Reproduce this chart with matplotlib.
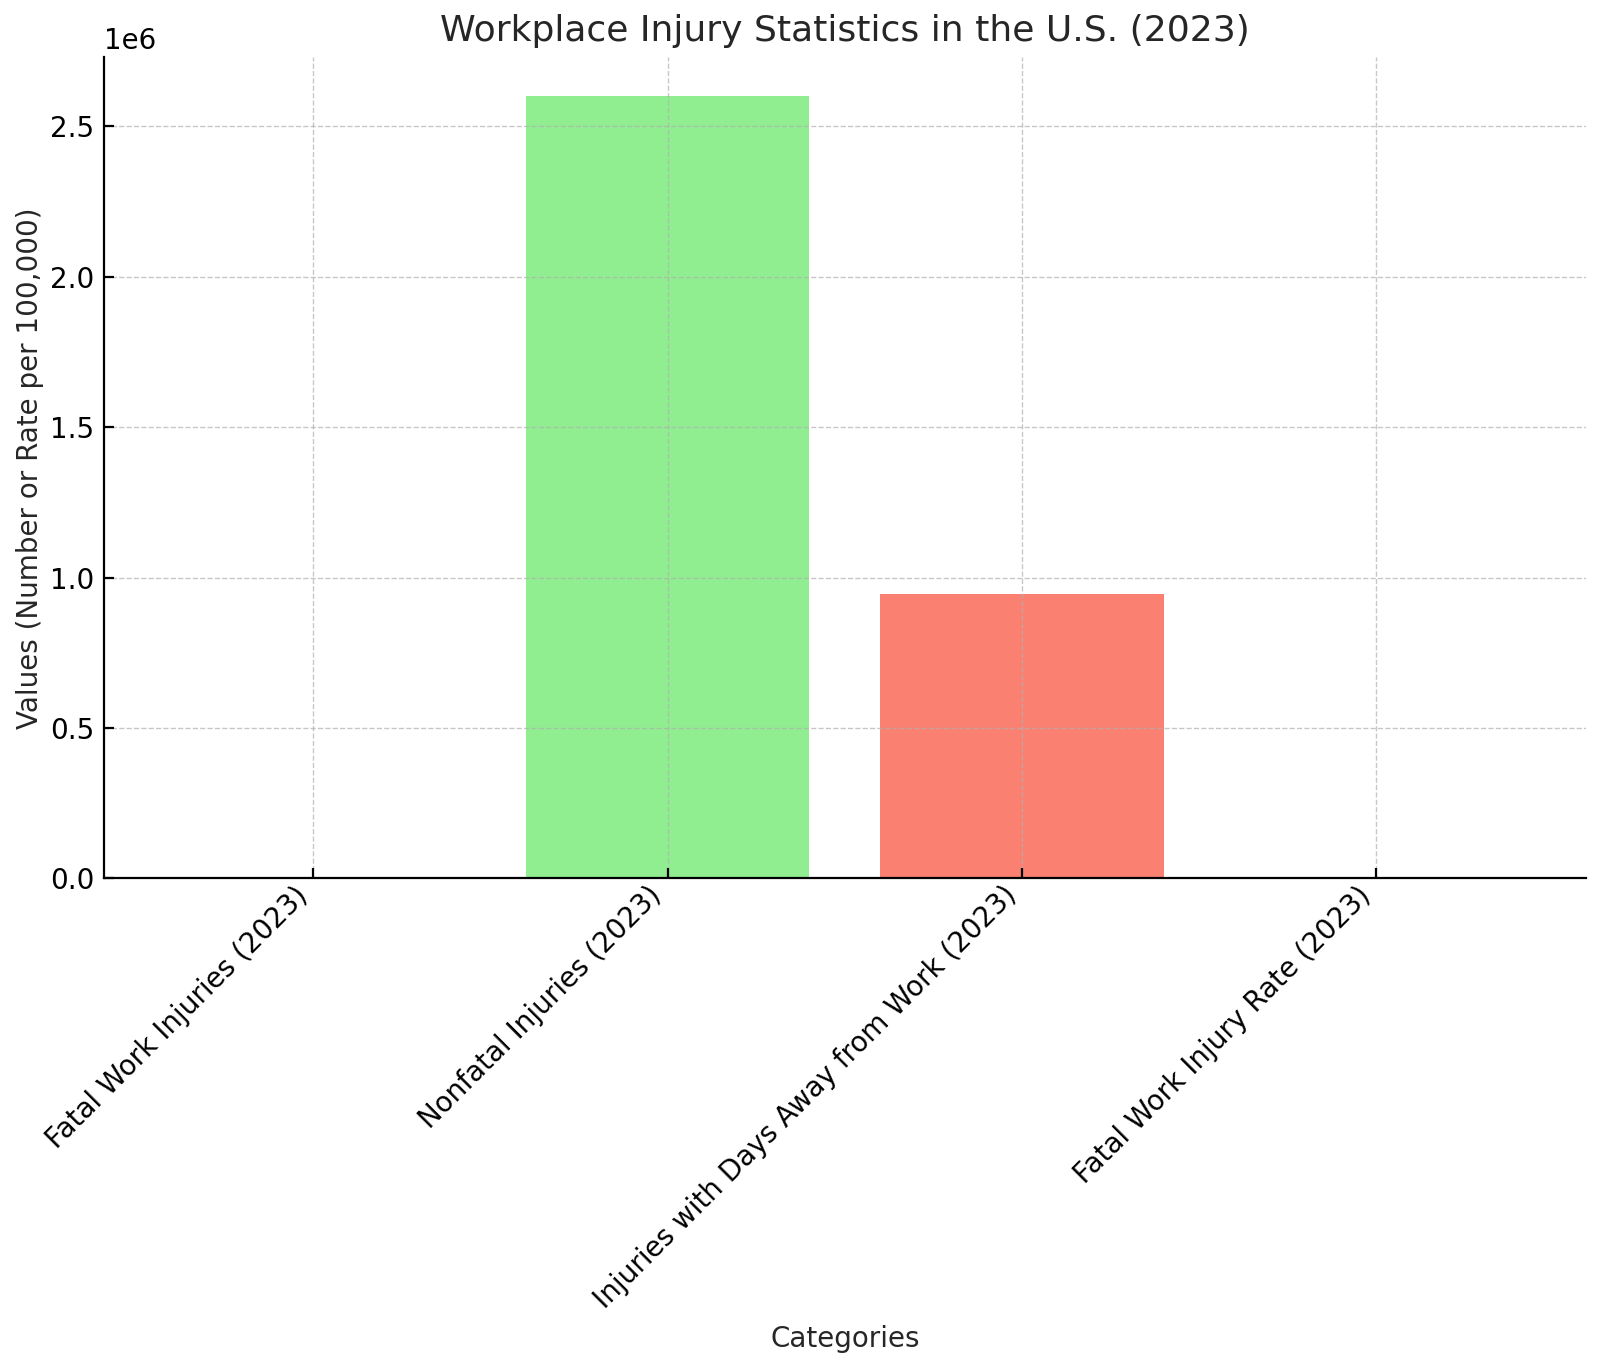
import matplotlib
matplotlib.use("Agg")
import matplotlib.pyplot as plt

categories = ["Fatal Work Injuries (2023)", "Nonfatal Injuries (2023)",
              "Injuries with Days Away from Work (2023)", "Fatal Work Injury Rate (2023)"]
values = [5283, 2600000, 945000, 3.5]
colors = ["skyblue", "lightgreen", "salmon", "gold"]

fig, ax = plt.subplots(figsize=(8, 6.82), dpi=200)
ax.bar(categories, values, color=colors)
ax.set_title("Workplace Injury Statistics in the U.S. (2023)", fontsize=13, color="#262626")
ax.set_xlabel("Categories", color="#262626")
ax.set_ylabel("Values (Number or Rate per 100,000)", color="#262626", labelpad=2)
ax.grid(True, linestyle="--", linewidth=0.5, alpha=0.7)
ax.tick_params(direction="in")
ax.tick_params(axis="x", pad=1)
ax.spines["top"].set_visible(False)
ax.spines["right"].set_visible(False)
plt.setp(ax.get_xticklabels(), rotation=45, ha="right")
fig.subplots_adjust(left=0.065, right=0.991, top=0.958, bottom=0.356)
fig.savefig("out.png", dpi=200)
